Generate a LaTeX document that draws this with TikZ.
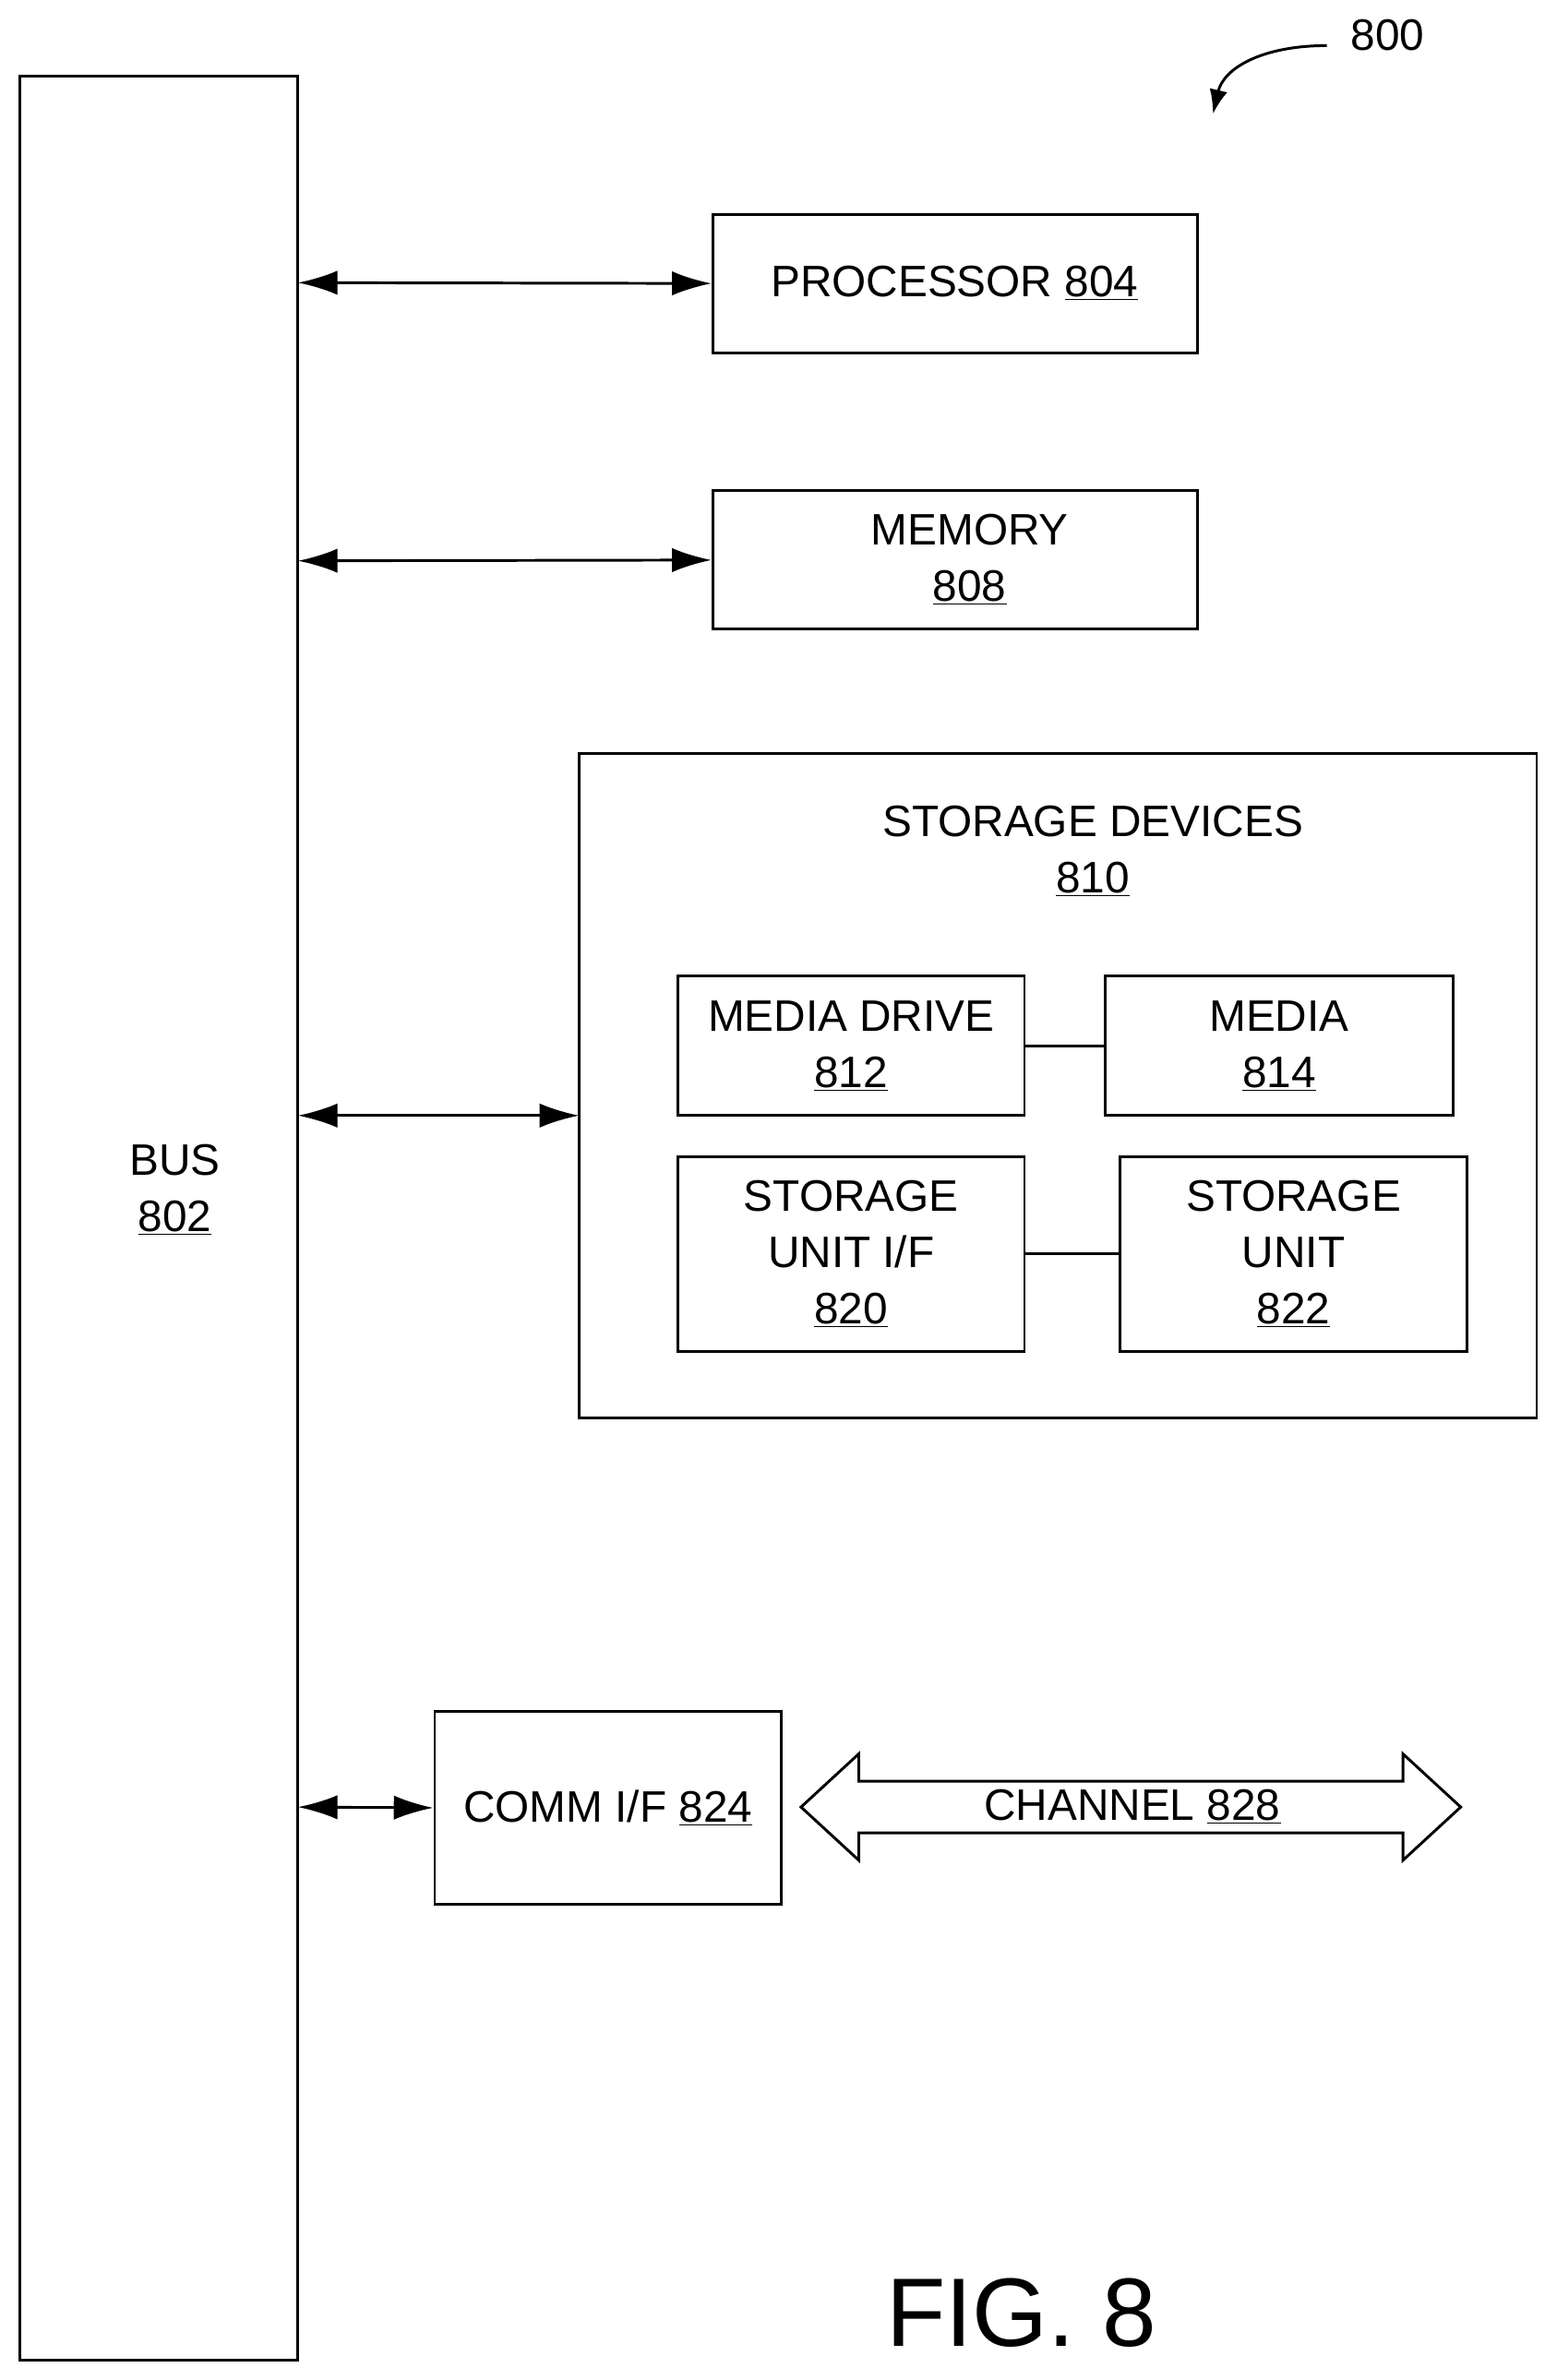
\documentclass[tikz,border=0pt]{standalone}
\usepackage{fontspec}
\setmainfont{Liberation Sans}
\usetikzlibrary{arrows.meta}
\begin{document}
\begin{tikzpicture}[x=1pt,y=-1pt,
  txt/.style={font=\fontsize{29}{37}\selectfont,align=center,inner sep=0pt},
  box/.style={draw,line width=1.8pt,inner sep=0pt,txt},
  conn/.style={line width=1.8pt,{Latex[length=26pt,width=16pt]}-{Latex[length=26pt,width=16pt]}},
  lnk/.style={line width=1.8pt}]
\useasboundingbox (0,0) rectangle (1024,1566);
\node[box,minimum width=183pt,minimum height=1503pt] (bus) at (104.5,801.5) {};
\node[txt] (busl) at (115,783) {BUS\\\underline{802}};
\node[box,minimum width=319pt,minimum height=91pt] (proc) at (628.5,186.5) {};
\node[txt] (procl) at (628,186) {PROCESSOR \underline{804}};
\node[box,minimum width=319pt,minimum height=91pt] (mem) at (628.5,368.5) {};
\node[txt] (meml) at (638,368) {MEMORY\\\underline{808}};
\node[box,minimum width=630pt,minimum height=437pt] (stor) at (696,714.5) {};
\node[txt] (storl) at (719,560) {STORAGE DEVICES\\\underline{810}};
\node[box,minimum width=228pt,minimum height=92pt] (md) at (560,688) {MEDIA DRIVE\\\underline{812}};
\node[box,minimum width=229pt,minimum height=92pt] (media) at (841.5,688) {MEDIA\\\underline{814}};
\node[box,minimum width=228pt,minimum height=128pt] (suif) at (560,825) {STORAGE\\UNIT I/F\\\underline{820}};
\node[box,minimum width=228pt,minimum height=128pt] (su) at (851,825) {STORAGE\\UNIT\\\underline{822}};
\node[box,minimum width=228pt,minimum height=127pt] (comm) at (400,1189.5) {COMM I/F \underline{824}};
\coordinate (s1) at (196,186); \coordinate (s2) at (196,369);
\coordinate (s3) at (196,734); \coordinate (s4) at (196,1189);
\coordinate (t3) at (381,734);
\draw[conn] (s1) -- (proc.west);
\draw[conn] (s2) -- (mem.west);
\draw[conn] (s3) -- (t3);
\draw[conn] (s4) -- (comm.west);
\draw[lnk] (md.east) -- (media.west);
\draw[lnk] (suif.east) -- (su.west);
\draw[line width=1.8pt,line join=miter] (527,1189) -- (565,1154) -- (565,1172) -- (923,1172) -- (923,1154) -- (961,1189) -- (923,1224) -- (923,1206) -- (565,1206) -- (565,1224) -- cycle;
\node[txt] (chan) at (745,1189) {CHANNEL \underline{828}};
\node[txt] (lbl) at (913,23) {800};
\coordinate (ae) at (798,75);
\draw[line width=1.8pt,-{Latex[length=16pt,width=12pt]}] (873,30) .. controls (830,30) and (805,45) .. (ae);
\node[font=\fontsize{64}{70}\selectfont] (fig) at (672,1522) {FIG. 8};
\end{tikzpicture}
\end{document}
